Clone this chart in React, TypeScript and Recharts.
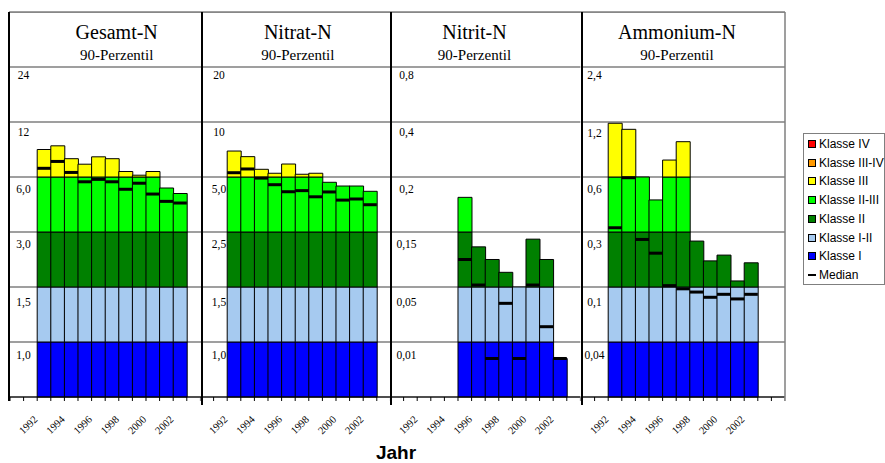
import React from 'react';
import { ComposedChart, Bar, Line, XAxis, YAxis, CartesianGrid, ReferenceLine } from 'recharts';

// ---------- classes ----------
const CLASS_NAMES = ['Klasse I', 'Klasse I-II', 'Klasse II', 'Klasse II-III', 'Klasse III', 'Klasse III-IV', 'Klasse IV'];
const CLASS_COLORS = ['#0000FF', '#A6CAF0', '#008000', '#00FF00', '#FFFF00', '#FF9900', '#FF0000'];

// ---------- categories ----------
const SLOT_YEARS_14 = [1990, 1991, 1992, 1993, 1994, 1995, 1996, 1997, 1998, 1999, 2000, 2001, 2002, 2003];
const SLOT_YEARS_15 = [1990, 1991, 1992, 1993, 1994, 1995, 1996, 1997, 1998, 1999, 2000, 2001, 2002, 2003, 2004];
const LABEL_YEARS = [1992, 1994, 1996, 1998, 2000, 2002];

// ---------- Gesamt-N ----------
const gesamtYears = [1992, 1993, 1994, 1995, 1996, 1997, 1998, 1999, 2000, 2001, 2002];
const gesamtP90 = [9.0, 9.4, 8.0, 7.4, 8.2, 8.0, 6.6, 6.2, 6.6, 5.4, 5.1];
const gesamtMedian = [6.95, 7.7, 6.5, 5.74, 5.87, 5.74, 5.33, 5.66, 5.07, 4.67, 4.58];
const gesamtBounds = [1.0, 1.5, 3.0, 6.0, 12, 24];
const gesamtTickLabels = ['1,0', '1,5', '3,0', '6,0', '12', '24'];

// ---------- Nitrat-N ----------
const nitratYears = [1992, 1993, 1994, 1995, 1996, 1997, 1998, 1999, 2000, 2001, 2002];
const nitratP90 = [7.36, 6.85, 5.7, 5.34, 6.18, 5.25, 5.34, 4.76, 4.59, 4.59, 4.35];
const nitratMedian = [5.39, 5.73, 4.95, 4.65, 4.33, 4.38, 4.1, 4.32, 3.95, 4.0, 3.74];
const nitratBounds = [1.0, 1.5, 2.5, 5.0, 10, 20];
const nitratTickLabels = ['1,0', '1,5', '2,5', '5,0', '10', '20'];

// ---------- Nitrit-N ----------
const nitritYears = [1995, 1996, 1997, 1998, 1999, 2000, 2001, 2002];
const nitritP90 = [0.1815, 0.123, 0.1, 0.0767, 0.05, 0.137, 0.1, 0.007];
const nitritMedian = [0.1, 0.0536, 0.007, 0.0381, 0.007, 0.0536, 0.0211, 0.007];
const nitritBounds = [0.01, 0.05, 0.15, 0.2, 0.4, 0.8];
const nitritTickLabels = ['0,01', '0,05', '0,15', '0,2', '0,4', '0,8'];

// ---------- Ammonium-N ----------
const ammoniumYears = [1992, 1993, 1994, 1995, 1996, 1997, 1998, 1999, 2000, 2001, 2002];
const ammoniumP90 = [1.186, 1.12, 0.6, 0.475, 0.785, 0.985, 0.267, 0.195, 0.216, 0.122, 0.188];
const ammoniumMedian = [0.323, 0.596, 0.273, 0.223, 0.105, 0.098, 0.0945, 0.0888, 0.092, 0.087, 0.092];
const ammoniumBounds = [0.04, 0.1, 0.3, 0.6, 1.2, 2.4];
const ammoniumTickLabels = ['0,04', '0,1', '0,3', '0,6', '1,2', '2,4'];

// ---------- layout ----------
const SLOT = 13.6;
const PLOT_LEFT = 9.5;
const PLOT_TOP = 12;
const PLOT_H = 385;
const AXIS_H = 60;
const LABEL_DY = [0, 17, 19, 16, 16, 14.5, 12, 0];
const BAND_LEVELS = [1, 2, 3, 4, 5, 6];
const SERIF = '"Liberation Serif", "Times New Roman", serif';
const SANS = '"Liberation Sans", Arial, sans-serif';

function toBand(v: number | null, bounds: number[]): number | null {
  if (v == null) return null;
  const full = [0, ...bounds, bounds[bounds.length - 1] * 2];
  for (let i = 0; i < full.length - 1; i++) {
    if (v <= full[i + 1]) {
      const p = i + (v - full[i]) / (full[i + 1] - full[i]);
      return Math.round(p * 1000) / 1000;
    }
  }
  return full.length - 1;
}

function buildRows(slots: number[], years: number[], p90: number[], median: number[], bounds: number[]) {
  return slots.map((yr) => {
    const idx = years.indexOf(yr);
    const row: any = { year: yr, med: null };
    for (let k = 0; k < 6; k++) row['s' + k] = 0;
    if (idx >= 0) {
      const p = toBand(p90[idx], bounds) as number;
      for (let k = 0; k < 6; k++) {
        const h = Math.max(0, Math.min(1, p - k));
        row['s' + k] = Math.round(h * 1000) / 1000;
      }
      row.med = toBand(median[idx], bounds);
    }
    return row;
  });
}

const renderMedian = (props: any) => {
  const { cx, cy, index } = props;
  if (cy == null || cx == null || Number.isNaN(cy) || props.payload?.med == null) {
    return <g key={'m' + index} />;
  }
  return <rect key={'m' + index} x={cx - SLOT / 2} y={cy - 1.5} width={SLOT} height={3} fill="#000" />;
};

type PanelProps = {
  slots: number[];
  years: number[];
  p90: number[];
  median: number[];
  bounds: number[];
  labels: string[];
  startSlot: number;
  labelCx: number;
};

function Panel({ slots, years, p90, median, bounds, labels, startSlot, labelCx }: PanelProps) {
  const data = buildRows(slots, years, p90, median, bounds);
  const width = slots.length * SLOT;
  const last = slots.length - 1;

  const xTick = (props: any) => {
    const { x, y, payload, index } = props;
    const left = x - SLOT / 2;
    const ax = left + 1;
    const ay = y + 23;
    return (
      <g key={'xt' + index}>
        <line x1={left} x2={left} y1={y} y2={y + 4} stroke="#000" strokeWidth={1} />
        {index === last && <line x1={x + SLOT / 2} x2={x + SLOT / 2} y1={y} y2={y + 4} stroke="#808080" strokeWidth={1} />}
        {LABEL_YEARS.includes(payload.value) && (
          <text x={ax} y={ay} transform={`rotate(-45 ${ax} ${ay})`} textAnchor="end" fontSize={10.5} fontFamily={SERIF} fill="#000">
            {payload.value}
          </text>
        )}
      </g>
    );
  };

  const makeLabel = (level: number) => (props: any) => {
    const vb = props.viewBox || {};
    return (
      <text x={(vb.x || 0) + labelCx} y={(vb.y || 0) + LABEL_DY[level]} textAnchor="middle" fontSize={11.5} fontFamily={SERIF} fill="#000">
        {labels[level - 1]}
      </text>
    );
  };

  return (
    <div style={{ position: 'absolute', left: PLOT_LEFT + startSlot * SLOT, top: PLOT_TOP }}>
      <ComposedChart
        width={width}
        height={PLOT_H + AXIS_H}
        data={data}
        margin={{ top: 0, right: 0, bottom: 0, left: 0 }}
        barCategoryGap={0}
        barGap={0}
      >
        <CartesianGrid vertical={false} stroke="#7f7f7f" strokeWidth={1.5} />
        <XAxis
          dataKey="year"
          type="category"
          height={AXIS_H}
          interval={0}
          tickLine={false}
          tickSize={0}
          tickMargin={0}
          axisLine={{ stroke: '#000', strokeWidth: 1.2 }}
          tick={xTick}
        />
        <YAxis type="number" domain={[0, 7]} ticks={[0, 1, 2, 3, 4, 5, 6, 7]} interval={0} hide />
        {[0, 1, 2, 3, 4, 5].map((k) => (
          <Bar
            key={k}
            dataKey={'s' + k}
            name={CLASS_NAMES[k]}
            stackId="a"
            fill={CLASS_COLORS[k]}
            stroke="#000"
            strokeWidth={1}
            isAnimationActive={false}
          />
        ))}
        <Line
          dataKey="med"
          name="Median"
          stroke="none"
          dot={renderMedian}
          activeDot={false}
          isAnimationActive={false}
          connectNulls={false}
        />
        {BAND_LEVELS.map((lv) => (
          <ReferenceLine key={'rl' + lv} y={lv} stroke="none" label={makeLabel(lv)} />
        ))}
      </ComposedChart>
    </div>
  );
}

const TITLES = ['Gesamt-N', 'Nitrat-N', 'Nitrit-N', 'Ammonium-N'];
const TITLE_X = [116.7, 297.8, 474.5, 677];
const SEPARATORS_X = [202, 391, 582];

export default function App() {
  const legendItems = [6, 5, 4, 3, 2, 1, 0];
  return (
    <div style={{ position: 'absolute', left: 0, top: 0, width: 885, height: 463, background: '#fff', overflow: 'hidden' }}>
      <Panel slots={SLOT_YEARS_14} years={gesamtYears} p90={gesamtP90} median={gesamtMedian} bounds={gesamtBounds} labels={gesamtTickLabels} startSlot={0} labelCx={13.5} />
      <Panel slots={SLOT_YEARS_14} years={nitratYears} p90={nitratP90} median={nitratMedian} bounds={nitratBounds} labels={nitratTickLabels} startSlot={14} labelCx={19} />
      <Panel slots={SLOT_YEARS_14} years={nitritYears} p90={nitritP90} median={nitritMedian} bounds={nitritBounds} labels={nitritTickLabels} startSlot={28} labelCx={16.5} />
      <Panel slots={SLOT_YEARS_15} years={ammoniumYears} p90={ammoniumP90} median={ammoniumMedian} bounds={ammoniumBounds} labels={ammoniumTickLabels} startSlot={42} labelCx={13.5} />

      <svg width={885} height={463} style={{ position: 'absolute', left: 0, top: 0, pointerEvents: 'none' }}>
        <line x1={9} x2={785} y1={12} y2={12} stroke="#7f7f7f" strokeWidth={1.5} />
        <line x1={785} x2={785} y1={12} y2={401} stroke="#7f7f7f" strokeWidth={1.5} />
        <line x1={9} x2={9} y1={12} y2={401} stroke="#000" strokeWidth={2} />
        {SEPARATORS_X.map((sx) => (
          <line key={sx} x1={sx} x2={sx} y1={12} y2={405} stroke="#000" strokeWidth={2} />
        ))}
        {TITLES.map((t, i) => (
          <g key={t}>
            <text x={TITLE_X[i]} y={39} textAnchor="middle" fontSize={20} fontFamily={SERIF} fill="#000">{t}</text>
            <text x={TITLE_X[i]} y={60} textAnchor="middle" fontSize={15} fontFamily={SERIF} fill="#000">90-Perzentil</text>
          </g>
        ))}
        <text x={396} y={459} textAnchor="middle" fontSize={19} fontWeight="bold" fontFamily={SANS} fill="#000">Jahr</text>
      </svg>

      <div style={{ position: 'absolute', left: 803, top: 133, width: 82, height: 152, boxSizing: 'border-box', border: '1px solid #7f7f7f', background: '#fff' }}>
        {legendItems.map((k, i) => (
          <div key={k} style={{ position: 'absolute', left: 4, top: 3 + i * 18.7, height: 14, display: 'flex', alignItems: 'center', whiteSpace: 'nowrap' }}>
            <div style={{ width: 8, height: 8, boxSizing: 'border-box', border: '1px solid #000', background: CLASS_COLORS[k] }} />
            <span style={{ marginLeft: 3, fontSize: 12, fontFamily: SANS, color: '#000' }}>{CLASS_NAMES[k]}</span>
          </div>
        ))}
        <div style={{ position: 'absolute', left: 4, top: 3 + 7 * 18.7, height: 14, display: 'flex', alignItems: 'center', whiteSpace: 'nowrap' }}>
          <div style={{ width: 8, height: 2.5, background: '#000' }} />
          <span style={{ marginLeft: 3, fontSize: 12, fontFamily: SANS, color: '#000' }}>Median</span>
        </div>
      </div>
    </div>
  );
}
